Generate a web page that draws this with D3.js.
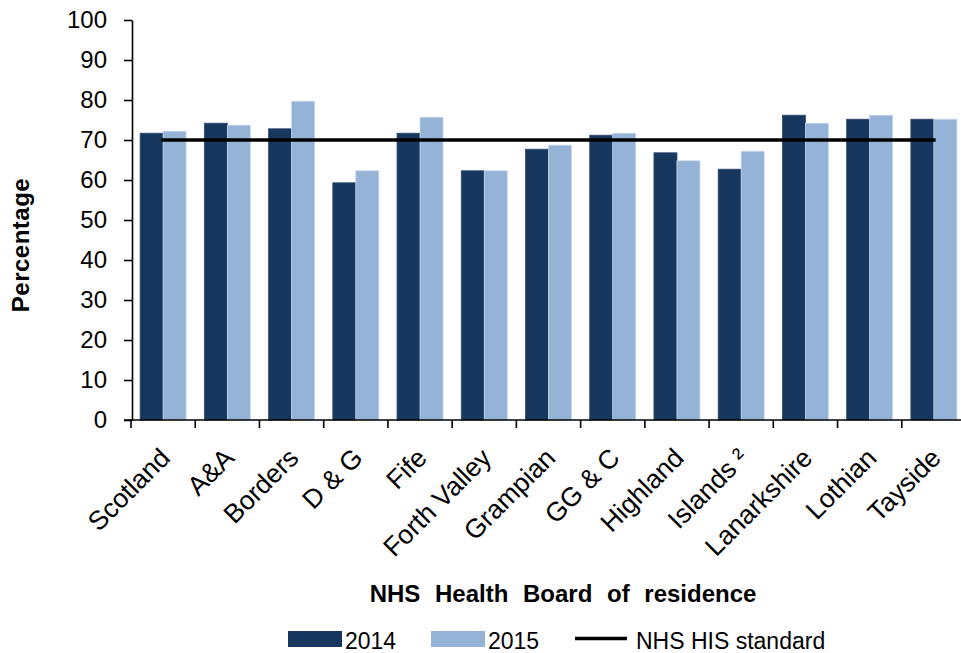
<!DOCTYPE html>
<html>
<head>
<meta charset="utf-8">
<script src="https://cdn.jsdelivr.net/npm/d3@7"></script>
<style>
  html, body { margin: 0; padding: 0; background: #fff; }
  svg { display: block; font-family: "Liberation Sans", Arial, sans-serif; }
</style>
</head>
<body>
<svg id="chart" width="961" height="653"></svg>
<script>
// NHS Health Boards of residence
const boards = ["Scotland", "A&A", "Borders", "D & G", "Fife", "Forth Valley", "Grampian",
                "GG & C", "Highland", "Islands \u00B2", "Lanarkshire", "Lothian", "Tayside"];
// Percentage by board and year
const pct2014 = [71.7, 74.2, 72.8, 59.3, 71.7, 62.3, 67.7, 71.2, 66.8, 62.7, 76.2, 75.2, 75.2];
const pct2015 = [72.2, 73.7, 79.7, 62.3, 75.7, 62.3, 68.7, 71.7, 64.8, 67.2, 74.2, 76.2, 75.2];
// NHS HIS standard, plotted across all boards
const standard = [70, 70, 70, 70, 70, 70, 70, 70, 70, 70, 70, 70, 70];
const years = ["2014", "2015"];
const yTicks = [0, 10, 20, 30, 40, 50, 60, 70, 80, 90, 100];
const yTitle = "Percentage";
const xTitle = "NHS Health Board of residence";
const standardLabel = "NHS HIS standard";

const colors = { "2014": "#17375e", "2015": "#95b3d7" };

const svg = d3.select("#chart");
const plot = { left: 132, top: 20, bottom: 420, right: 966 };

const x = d3.scaleBand().domain(boards).range([plot.left - 1, plot.right]).padding(0);
const groupW = 46;
const xSub = d3.scaleBand().domain(years).range([0, groupW]).padding(0);
const groupOffset = (x.bandwidth() - groupW) / 2;
const y = d3.scaleLinear().domain([0, 100]).range([plot.bottom, plot.top]);

const rows = boards.map((b, i) => ({ board: b, values: [
  { year: "2014", v: pct2014[i] },
  { year: "2015", v: pct2015[i] }
]}));

// bars
const groups = svg.append("g").selectAll("g").data(rows).join("g")
  .attr("transform", d => `translate(${x(d.board) + groupOffset},0)`);
groups.selectAll("rect").data(d => d.values).join("rect")
  .attr("x", d => xSub(d.year))
  .attr("width", xSub.bandwidth())
  .attr("y", d => y(d.v))
  .attr("height", d => y(0) - y(d.v))
  .attr("fill", d => colors[d.year])
  .attr("stroke", d => d.year === "2015" ? "#c9d8ec" : "#2c4a70")
  .attr("stroke-width", 0.8);

// y axis
const yAxis = svg.append("g")
  .attr("transform", `translate(${plot.left},0)`)
  .call(d3.axisLeft(y).tickValues(yTicks).tickSize(8).tickPadding(17).tickSizeOuter(0));
yAxis.select(".domain").attr("stroke", "#000").attr("stroke-width", 1.6);
yAxis.selectAll(".tick line").attr("stroke", "#000").attr("stroke-width", 1.6);
yAxis.selectAll(".tick text")
  .attr("fill", "#000")
  .style("font-size", "24px")
  .style("font-family", "'Liberation Sans', Arial, sans-serif");

// x axis line and tick marks at category boundaries
const xAxis = svg.append("g").attr("transform", `translate(0,${plot.bottom})`);
xAxis.append("line")
  .attr("x1", plot.left - 8).attr("x2", x.range()[1])
  .attr("stroke", "#000").attr("stroke-width", 1.6);
const boundaries = boards.map(b => x(b)).concat([x.range()[1]]);
xAxis.selectAll("line.tk").data(boundaries).join("line")
  .attr("class", "tk")
  .attr("x1", d => d).attr("x2", d => d)
  .attr("y1", 0).attr("y2", 8)
  .attr("stroke", "#000").attr("stroke-width", 1.6);

// rotated category labels
xAxis.selectAll("text.cat").data(boards).join("text")
  .attr("class", "cat")
  .attr("transform", d => `translate(${x(d) + x.bandwidth() / 2 - 5},${26}) rotate(-45)`)
  .attr("text-anchor", "end")
  .attr("dy", "0.72em")
  .style("font-size", "26.5px")
  .attr("fill", "#000")
  .text(d => d);

// standard line through category centres
const line = d3.line()
  .x((d, i) => x(boards[i]) + x.bandwidth() / 2)
  .y(d => y(d));
svg.append("path")
  .datum(standard)
  .attr("d", line)
  .attr("fill", "none")
  .attr("stroke", "#000")
  .attr("stroke-width", 3.4)
  .attr("stroke-linecap", "square");

// axis titles
svg.append("text")
  .attr("transform", `translate(29,245) rotate(-90)`)
  .attr("text-anchor", "middle")
  .style("font-size", "24px")
  .style("font-weight", "bold")
  .style("letter-spacing", "0.5px")
  .text(yTitle);

svg.append("text")
  .attr("x", 563).attr("y", 602)
  .attr("text-anchor", "middle")
  .style("font-size", "24px")
  .style("font-weight", "bold")
  .style("word-spacing", "8px")
  .text(xTitle);

// legend
const legend = svg.append("g");
const legendItems = [
  { key: "2014", type: "rect", x: 288, tx: 345 },
  { key: "2015", type: "rect", x: 431, tx: 488 },
  { key: standardLabel, type: "line", x: 575, tx: 636 }
];
legendItems.forEach(it => {
  if (it.type === "rect") {
    legend.append("rect")
      .attr("x", it.x).attr("y", 631).attr("width", 54).attr("height", 16)
      .attr("fill", colors[it.key]);
  } else {
    legend.append("line")
      .attr("x1", it.x).attr("x2", it.x + 52)
      .attr("y1", 638.5).attr("y2", 638.5)
      .attr("stroke", "#000").attr("stroke-width", 3.4);
  }
  legend.append("text")
    .attr("x", it.tx).attr("y", 649)
    .style("font-size", "23px")
    .attr("fill", "#000")
    .text(it.key);
});
</script>
</body>
</html>
